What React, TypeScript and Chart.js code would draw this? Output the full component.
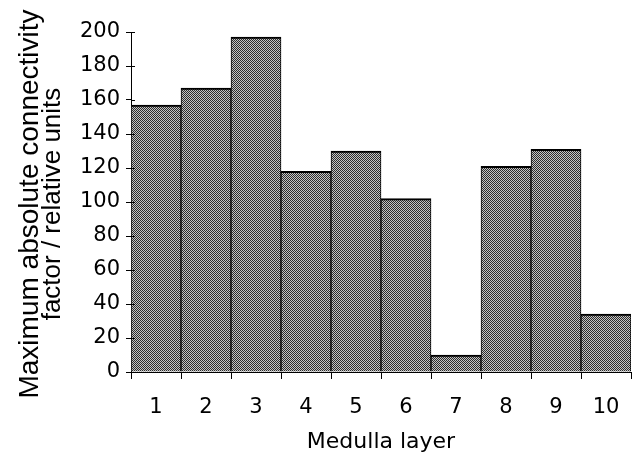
import React, { useEffect, useRef } from "react";
import { Chart, registerables } from "chart.js";

Chart.register(...registerables);

const layers = ["1", "2", "3", "4", "5", "6", "7", "8", "9", "10"];
const connectivity = [157, 167, 197, 118, 130, 102, 10, 121, 131, 34];
const yTitle = ["Maximum absolute connectivity", "factor / relative units"];
const xTitle = "Medulla layer";

const WIDE = "'DejaVu Sans', Verdana, sans-serif";
const SANS = "'Liberation Sans', Arial, Helvetica, sans-serif";

function makePattern(): CanvasPattern | string {
  const c = document.createElement("canvas");
  c.width = 2;
  c.height = 2;
  const g = c.getContext("2d");
  if (!g) return "#777777";
  g.fillStyle = "#c4c4c4";
  g.fillRect(0, 0, 2, 2);
  g.fillStyle = "#2c2c2c";
  g.fillRect(0, 0, 1, 1);
  g.fillRect(1, 1, 1, 1);
  const p = g.createPattern(c, "repeat");
  return p || "#777777";
}

const innerTicks = {
  id: "innerTicks",
  afterDatasetsDraw(chart: any) {
    const y = chart.scales.y;
    const ctx = chart.ctx;
    ctx.save();
    ctx.strokeStyle = "#000";
    ctx.lineWidth = 1;
    y.ticks.forEach((_t: any, i: number) => {
      const py = Math.round(y.getPixelForTick(i)) + 0.5;
      ctx.beginPath();
      ctx.moveTo(y.right, py);
      ctx.lineTo(y.right + 4, py);
      ctx.stroke();
    });
    ctx.restore();
  },
};

// two-line vertical axis title: the second line is set in a smaller size
const yTitlePlugin = {
  id: "yTitlePlugin",
  afterDraw(chart: any) {
    const ctx = chart.ctx;
    const area = chart.chartArea;
    const cy = (area.top + area.bottom) / 2 + 2;
    const lines = [
      { text: yTitle[0], size: 28, baseX: 37.5 },
      { text: yTitle[1], size: 26, baseX: 60 },
    ];
    ctx.save();
    ctx.fillStyle = "#000";
    ctx.textAlign = "center";
    ctx.textBaseline = "alphabetic";
    lines.forEach((l) => {
      ctx.save();
      ctx.translate(l.baseX, cy);
      ctx.rotate(-Math.PI / 2);
      ctx.font = `${l.size}px ${SANS}`;
      ctx.fillText(l.text, 0, 0);
      ctx.restore();
    });
    ctx.restore();
  },
};

export default function App() {
  const ref = useRef<HTMLCanvasElement>(null);
  useEffect(() => {
    if (!ref.current) return;
    const chart = new Chart(ref.current, {
      type: "bar",
      data: {
        labels: layers,
        datasets: [
          {
            data: connectivity,
            backgroundColor: makePattern() as any,
            borderColor: "#000",
            borderWidth: { top: 2, left: 1, right: 1, bottom: 0 } as any,
            borderSkipped: false,
            barPercentage: 1,
            categoryPercentage: 1,
          },
        ],
      },
      options: {
        animation: false,
        responsive: false,
        maintainAspectRatio: false,
        layout: { padding: { top: 32, right: 9, left: 0, bottom: 0 } },
        plugins: { legend: { display: false }, tooltip: { enabled: false } },
        scales: {
          x: {
            afterFit: (s: any) => {
              s.height = 86;
            },
            grid: {
              drawOnChartArea: false,
              drawTicks: true,
              tickLength: 7,
              color: "#000",
              offset: true,
            },
            border: { display: true, color: "#000", width: 1 },
            ticks: {
              color: "#000",
              padding: 16,
              font: { family: WIDE, size: 21 },
              maxRotation: 0,
            },
            title: {
              display: true,
              text: xTitle,
              color: "#000",
              font: { family: WIDE, size: 22, lineHeight: 1.2 },
              padding: { top: 0, bottom: 3 },
            },
          },
          y: {
            min: 0,
            max: 200,
            afterFit: (s: any) => {
              s.width = 131;
            },
            grid: {
              drawOnChartArea: false,
              drawTicks: true,
              tickLength: 5,
              color: "#000",
            },
            border: { display: true, color: "#000", width: 1 },
            ticks: {
              stepSize: 20,
              color: "#000",
              padding: 6,
              font: { family: WIDE, size: 21 },
            },
            title: { display: false },
          },
        },
      },
      plugins: [innerTicks, yTitlePlugin],
    });
    return () => chart.destroy();
  }, []);
  return (
    <div style={{ position: "absolute", left: 0, top: 0, width: 640, height: 458, background: "#fff" }}>
      <canvas ref={ref} width={640} height={458} style={{ display: "block" }} />
    </div>
  );
}
